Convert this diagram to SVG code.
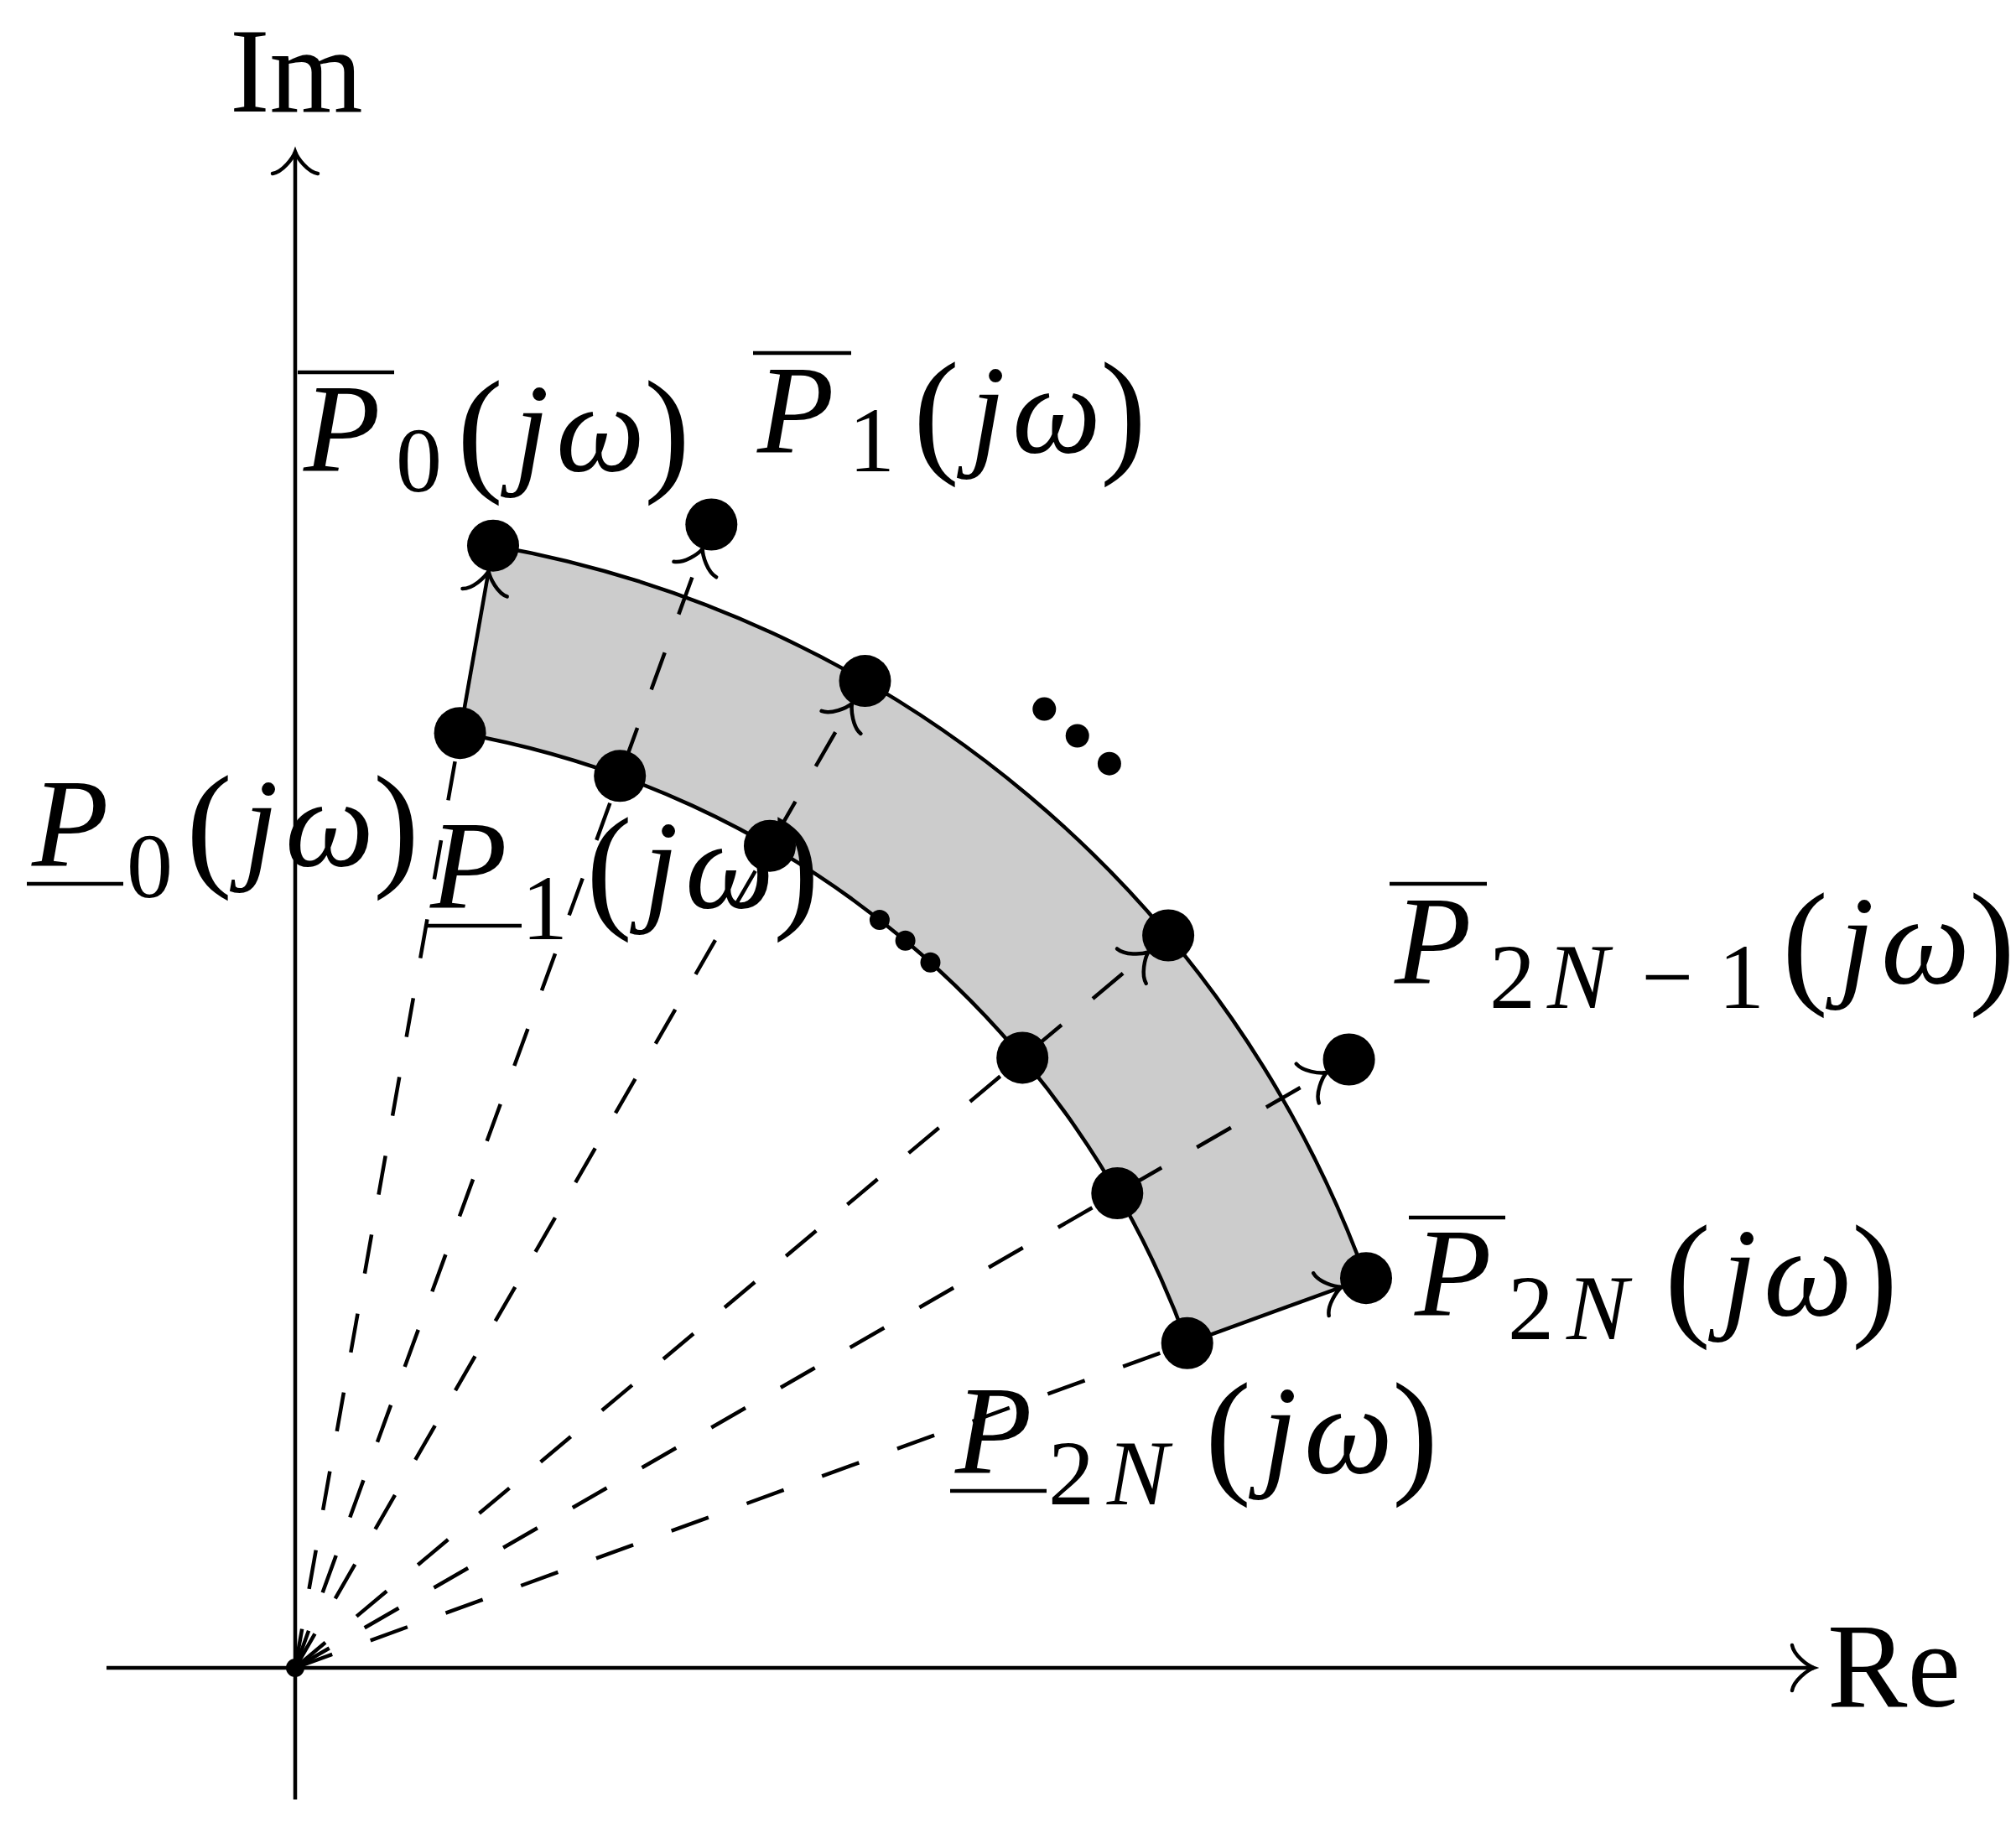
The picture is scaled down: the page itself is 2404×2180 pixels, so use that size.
<svg xmlns="http://www.w3.org/2000/svg" width="2404" height="2180" viewBox="0 0 2404 2180">
<style>
.ln{stroke:#000;stroke-width:4.5;fill:none}
.dash{stroke-dasharray:47 48.5}
.dot{fill:#000}
.bar{stroke:#000;stroke-width:4.5}
.t{font-family:"Liberation Serif","Times New Roman",serif;fill:#000}
.it{font-style:italic;font-size:150px}
.rm{font-size:165px}
.sb{font-size:110px}
.ax{font-size:143px}
</style>
<defs>
<marker id="to" markerUnits="userSpaceOnUse" markerWidth="70" markerHeight="70" viewBox="-35 -35 70 70" refX="0" refY="0" orient="auto" overflow="visible">
<path d="M -26,-27 C -24,-15 -8,-3 0,0 C -8,3 -24,15 -26,27" fill="none" stroke="#000" stroke-width="4.5" stroke-linecap="round" stroke-dasharray="none"/>
</marker>
</defs>
<rect width="2404" height="2180" fill="#fff"/>

<g id="region">
<path d="M 588,650.7 A 1359 1359 0 0 1 1629,1524.2 L 1415.7,1601.8 A 1132 1132 0 0 0 548.6,874.2 Z" fill="#cccccc" stroke="none"/>
</g>

<g id="axes">
<line class="ln" x1="352" y1="2146" x2="352" y2="181" marker-end="url(#to)"/>
<line class="ln" x1="127" y1="1989" x2="2163" y2="1989" marker-end="url(#to)"/>
<text class="t ax" x="274" y="133">Im</text>
<text class="t ax" x="2179" y="2035">Re</text>
</g>

<g id="connectors">
<line class="ln dash" x1="352" y1="1989" x2="543.2" y2="904.7"/>
<line class="ln dash" x1="352" y1="1989" x2="837.7" y2="654.6" marker-end="url(#to)"/>
<line class="ln dash" x1="352" y1="1989" x2="1016" y2="838.9" marker-end="url(#to)"/>
<line class="ln dash" x1="352" y1="1989" x2="1369.3" y2="1135.4" marker-end="url(#to)"/>
<line class="ln dash" x1="352" y1="1989" x2="1581.8" y2="1279" marker-end="url(#to)"/>
<line class="ln dash" x1="352" y1="1989" x2="1386.6" y2="1612.4"/>
<path class="ln" d="M 588,650.7 A 1359 1359 0 0 1 1629,1524.2"/>
<path class="ln" d="M 548.6,874.2 A 1132 1132 0 0 1 1415.7,1601.8"/>
<line class="ln" x1="548.6" y1="874.2" x2="582.6" y2="681.2" marker-end="url(#to)"/>
<line class="ln" x1="1415.7" y1="1601.8" x2="1599.9" y2="1534.8" marker-end="url(#to)"/>
</g>

<g id="origin"><circle class="dot" cx="352" cy="1989" r="11"/></g>
<g id="node-P0-upper"><circle class="dot" cx="588" cy="650.7" r="31"/></g>
<g id="node-P1-upper"><circle class="dot" cx="848.3" cy="625.5" r="31"/></g>
<g id="node-outer-60"><circle class="dot" cx="1031.5" cy="812.1" r="31"/></g>
<g id="node-outer-40"><circle class="dot" cx="1393.1" cy="1115.5" r="31"/></g>
<g id="node-far-30"><circle class="dot" cx="1608.6" cy="1263.5" r="31"/></g>
<g id="node-P2N-upper"><circle class="dot" cx="1629" cy="1524.2" r="31"/></g>
<g id="node-P0-lower"><circle class="dot" cx="548.6" cy="874.2" r="31"/></g>
<g id="node-inner-70"><circle class="dot" cx="739.2" cy="925.3" r="31"/></g>
<g id="node-inner-60"><circle class="dot" cx="918" cy="1008.7" r="31"/></g>
<g id="node-inner-40"><circle class="dot" cx="1219.2" cy="1261.4" r="31"/></g>
<g id="node-inner-30"><circle class="dot" cx="1332.3" cy="1423" r="31"/></g>
<g id="node-P2N-lower"><circle class="dot" cx="1415.7" cy="1601.8" r="31"/></g>
<g id="ellipsis-outer">
<circle class="dot" cx="1245.3" cy="845.6" r="14"/>
<circle class="dot" cx="1284.7" cy="877.5" r="14"/>
<circle class="dot" cx="1322.9" cy="910.7" r="14"/>
</g>
<g id="ellipsis-inner">
<circle class="dot" cx="1048.9" cy="1097" r="12"/>
<circle class="dot" cx="1079.6" cy="1121.8" r="12"/>
<circle class="dot" cx="1109.5" cy="1147.8" r="12"/>
</g>

<g id="label-P0-upper">
<line class="bar" x1="355" y1="444" x2="470" y2="444"/>
<text class="t"><tspan class="it" x="362" y="562">P</tspan><tspan class="sb" x="472" y="586">0</tspan><tspan class="rm" x="545" y="568">(</tspan><tspan class="it" x="613" y="562">j</tspan><tspan class="it" x="663" y="562">ω</tspan><tspan class="rm" x="768" y="568">)</tspan></text>
</g>
<g id="label-P1-upper">
<line class="bar" x1="898" y1="421" x2="1015" y2="421"/>
<text class="t"><tspan class="it" x="903" y="540">P</tspan><tspan class="sb" x="1012" y="562">1</tspan><tspan class="rm" x="1089" y="546">(</tspan><tspan class="it" x="1157" y="540">j</tspan><tspan class="it" x="1207" y="540">ω</tspan><tspan class="rm" x="1312" y="546">)</tspan></text>
</g>
<g id="label-P0-lower">
<line class="bar" x1="32" y1="1054" x2="147" y2="1054"/>
<text class="t"><tspan class="it" x="38" y="1033">P</tspan><tspan class="sb" x="151" y="1070">0</tspan><tspan class="rm" x="222" y="1039">(</tspan><tspan class="it" x="290" y="1033">j</tspan><tspan class="it" x="340" y="1033">ω</tspan><tspan class="rm" x="445" y="1039">)</tspan></text>
</g>
<g id="label-P1-lower">
<line class="bar" x1="507" y1="1104" x2="622" y2="1104"/>
<text class="t"><tspan class="it" x="513" y="1083">P</tspan><tspan class="sb" x="622" y="1120">1</tspan><tspan class="rm" x="699" y="1089">(</tspan><tspan class="it" x="767" y="1083">j</tspan><tspan class="it" x="817" y="1083">ω</tspan><tspan class="rm" x="922" y="1089">)</tspan></text>
</g>
<g id="label-P2N-1-upper">
<line class="bar" x1="1657" y1="1054" x2="1773" y2="1054"/>
<text class="t"><tspan class="it" x="1663" y="1173">P</tspan><tspan class="sb" x="1776" y="1202">2</tspan><tspan class="sb" font-style="italic" x="1845" y="1202">N</tspan><tspan class="sb" x="1957" y="1202">−</tspan><tspan class="sb" x="2049" y="1202">1</tspan><tspan class="rm" x="2125" y="1179">(</tspan><tspan class="it" x="2193" y="1173">j</tspan><tspan class="it" x="2243" y="1173">ω</tspan><tspan class="rm" x="2348" y="1179">)</tspan></text>
</g>
<g id="label-P2N-upper">
<line class="bar" x1="1680" y1="1452" x2="1795" y2="1452"/>
<text class="t"><tspan class="it" x="1687" y="1569">P</tspan><tspan class="sb" x="1798" y="1597">2</tspan><tspan class="sb" font-style="italic" x="1868" y="1597">N</tspan><tspan class="rm" x="1985" y="1575">(</tspan><tspan class="it" x="2053" y="1569">j</tspan><tspan class="it" x="2103" y="1569">ω</tspan><tspan class="rm" x="2208" y="1575">)</tspan></text>
</g>
<g id="label-P2N-lower">
<line class="bar" x1="1133" y1="1778" x2="1248" y2="1778"/>
<text class="t"><tspan class="it" x="1139" y="1757">P</tspan><tspan class="sb" x="1250" y="1794">2</tspan><tspan class="sb" font-style="italic" x="1320" y="1794">N</tspan><tspan class="rm" x="1437" y="1763">(</tspan><tspan class="it" x="1505" y="1757">j</tspan><tspan class="it" x="1555" y="1757">ω</tspan><tspan class="rm" x="1660" y="1763">)</tspan></text>
</g>
</svg>
